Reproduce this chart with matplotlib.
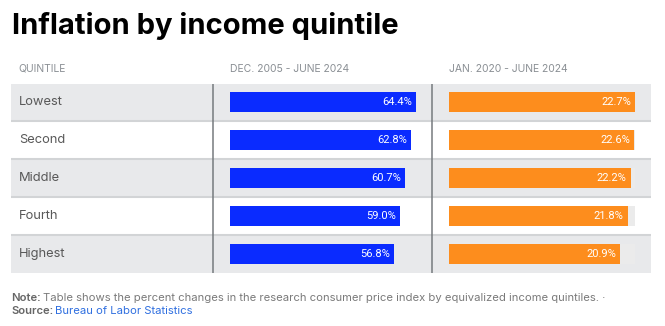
import matplotlib
matplotlib.use("Agg")
import matplotlib.pyplot as plt

plt.rcParams['font.family'] = ['Inter', 'DejaVu Sans']

quintiles = ['Lowest', 'Second', 'Middle', 'Fourth', 'Highest']
since_2005 = [64.4, 62.8, 60.7, 59.0, 56.8]
since_2020 = [22.7, 22.6, 22.2, 21.8, 20.9]
col_headers = ['QUINTILE', 'DEC. 2005 - JUNE 2024', 'JAN. 2020 - JUNE 2024']

title = 'Inflation by income quintile'
note = 'Table shows the percent changes in the research consumer price index by equivalized income quintiles. \u00b7'
source = 'Bureau of Labor Statistics'

BLUE = '#0a2bff'
ORANGE = '#fd8d1d'
ROW_GRAY = '#e8e9eb'
W, H = 665, 326


def fx(px):
    return px / W


def fy(py):
    return 1 - py / H


fig = plt.figure(figsize=(W / 100, H / 100), dpi=100)
fig.patch.set_facecolor('white')

# table area
top, bot = 83.5, 272.7
n = len(quintiles)
tab = fig.add_axes([fx(11), fy(bot), fx(651) - fx(11), fy(top) - fy(bot)])
tab.set_xlim(11, 651)
tab.set_ylim(n - 0.5, -0.5)
tab.axis('off')
for i, q in enumerate(quintiles):
    if i % 2 == 0:
        tab.axhspan(i - 0.5, i + 0.5, color=ROW_GRAY, lw=0, zorder=0)
    if i < n - 1:
        tab.axhline(i + 0.5, color='#d2d4d6', lw=1.5, zorder=1)
    tab.text(19, i, q, ha='left', va='center', fontsize=9.3, color='#595959')
for xd in (213, 432):
    tab.axvline(xd, color='#767b7e', lw=1.1, zorder=2)


def bar_column(x0, vals, color, track):
    ax = fig.add_axes([fx(x0), fy(bot), fx(x0 + 186) - fx(x0), fy(top) - fy(bot)])
    ax.set_xlim(0, max(vals))
    ax.set_ylim(n - 0.5, -0.5)
    ax.axis('off')
    ax.patch.set_alpha(0)
    ys = list(range(n))
    if track:
        ax.barh(ys, [max(vals)] * n, height=0.53, color='#ebebeb', lw=0, zorder=1)
    ax.barh(ys, vals, height=0.53, color=color, lw=0, zorder=2)
    for y, v in zip(ys, vals):
        ax.annotate(f'{v:.1f}%', (v, y), xytext=(-3, 0), textcoords='offset points',
                    ha='right', va='center', fontsize=8, color='white', zorder=3,
                    family=['Roboto', 'DejaVu Sans'])
    return ax


bar_column(230, since_2005, BLUE, False)
bar_column(449, since_2020, ORANGE, True)

# headers
for xh, h in zip((18, 230, 449), col_headers):
    fig.text(fx(xh), fy(69), h, ha='left', va='center', fontsize=7.5, color='#8a8f94')

fig.text(fx(12), fy(26), title, ha='left', va='center', fontsize=21,
         fontweight='bold', color='black')

# footer
fs = 8.1
t = fig.text(fx(11), fy(298), 'Note:', ha='left', va='center', fontsize=fs,
             fontweight='semibold', color='#666666')
fig.canvas.draw()
bb = t.get_window_extent()
fig.text(bb.x1 / W + 0.003, fy(298), note, ha='left', va='center', fontsize=fs, color='#7a7a7a')
s = fig.text(fx(11), fy(311), 'Source:', ha='left', va='center', fontsize=fs,
             fontweight='semibold', color='#666666')
bb = s.get_window_extent()
fig.text(bb.x1 / W + 0.003, fy(311), source, ha='left', va='center', fontsize=fs, color='#2f6fe0')

fig.savefig('out.png', dpi=100)
